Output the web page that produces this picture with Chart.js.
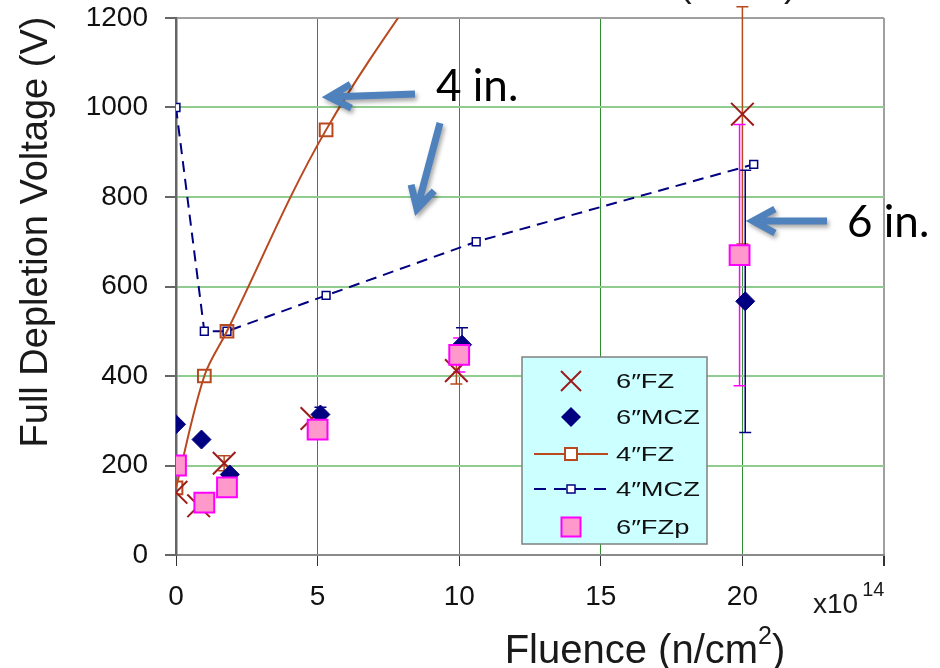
<!DOCTYPE html>
<html>
<head>
<meta charset="utf-8">
<style>
  html, body { margin: 0; padding: 0; background: #fff; }
  #wrap { width: 940px; height: 668px; }
</style>
</head>
<body>
<div id="wrap"><canvas id="chart" width="940" height="668"></canvas></div>
<script src="https://cdn.jsdelivr.net/npm/chart.js@4.4.1/dist/chart.umd.min.js"></script>
<script>
  // fluence in units of 1e14 n/cm2, full depletion voltage in V
  const fz6Fluence = [0, 0.8, 1.7, 4.8, 9.9, 20.0];
  const fz6Voltage = [140, 110, 205, 305, 412, 985];
  const fz6ErrUp = [0, 0, 17, 0, 30, 240];
  const fz6ErrDown = [0, 0, 17, 0, 30, 290];

  const mcz6Fluence = [0, 0.9, 1.9, 5.1, 10.1, 20.1];
  const mcz6Voltage = [292, 258, 180, 314, 470, 567];
  const mcz6Err = [0, 0, 0, 16, 38, 293];

  const fz4Fluence = [0, 1.0, 1.8, 5.3, 10];
  const fz4Voltage = [150, 400, 500, 950, 1400];

  const mcz4Fluence = [0, 1.0, 1.8, 5.3, 10.6, 20.4];
  const mcz4Voltage = [1000, 500, 500, 580, 700, 873];

  const fzp6Fluence = [0, 1.0, 1.8, 5.0, 10.0, 19.9];
  const fzp6Voltage = [200, 117, 151, 280, 447, 670];
  const fzp6Err = [0, 0, 0, 0, 38, 292];

  const xTicks = [0, 5, 10, 15, 20, 25];
  const yTicks = [0, 200, 400, 600, 800, 1000, 1200];
  const labels = ['6″FZ', '6″MCZ', '4″FZ', '4″MCZ', '6″FZp'];

  const FONT = '"Liberation Sans", Arial, sans-serif';
  const RED = '#9c1c1c', BROWN = '#b8491f', NAVY = '#000080', PINK = '#ff99cc', MAGENTA = '#ff00ff';

  function pts(xs, ys) { return xs.map((x, i) => ({ x: x, y: ys[i] })); }

  // error bars, drawn under the markers
  const errorBars = {
    id: 'errorBars',
    beforeDatasetsDraw(chart) {
      const ctx = chart.ctx, xs = chart.scales.x, ys = chart.scales.y;
      const sets = [
        { xv: fz6Fluence, yv: fz6Voltage, up: fz6ErrUp, dn: fz6ErrDown, color: BROWN },
        { xv: mcz6Fluence, yv: mcz6Voltage, up: mcz6Err, dn: mcz6Err, color: NAVY },
        { xv: fzp6Fluence, yv: fzp6Voltage, up: fzp6Err, dn: fzp6Err, color: MAGENTA }
      ];
      ctx.save();
      ctx.lineWidth = 1.5;
      sets.forEach(s => {
        ctx.strokeStyle = s.color;
        s.xv.forEach((x, i) => {
          if (!s.up[i] && !s.dn[i]) return;
          const px = xs.getPixelForValue(x);
          const top = ys.getPixelForValue(s.yv[i] + s.up[i]);
          const bot = ys.getPixelForValue(s.yv[i] - s.dn[i]);
          ctx.beginPath();
          ctx.moveTo(px, top); ctx.lineTo(px, bot);
          ctx.moveTo(px - 6, top); ctx.lineTo(px + 6, top);
          ctx.moveTo(px - 6, bot); ctx.lineTo(px + 6, bot);
          ctx.stroke();
        });
      });
      ctx.restore();
    }
  };

  function arrow(ctx, x1, y1, x2, y2) {
    const a = Math.atan2(y2 - y1, x2 - x1);
    const len = 25, spread = 0.5;
    ctx.save();
    ctx.strokeStyle = '#4f81bd';
    ctx.lineWidth = 7;
    ctx.lineJoin = 'miter';
    ctx.shadowColor = 'rgba(0,0,0,0.35)';
    ctx.shadowBlur = 4;
    ctx.shadowOffsetX = 2;
    ctx.shadowOffsetY = 3;
    ctx.beginPath();
    ctx.moveTo(x1, y1);
    ctx.lineTo(x2, y2);
    ctx.moveTo(x2 - len * Math.cos(a - spread), y2 - len * Math.sin(a - spread));
    ctx.lineTo(x2, y2);
    ctx.lineTo(x2 - len * Math.cos(a + spread), y2 - len * Math.sin(a + spread));
    ctx.stroke();
    ctx.restore();
  }

  function legendMarker(ctx, i, x, y) {
    ctx.save();
    if (i === 0) {
      ctx.strokeStyle = RED; ctx.lineWidth = 2;
      ctx.beginPath();
      ctx.moveTo(x - 10, y - 10); ctx.lineTo(x + 10, y + 10);
      ctx.moveTo(x + 10, y - 10); ctx.lineTo(x - 10, y + 10);
      ctx.stroke();
    } else if (i === 1) {
      ctx.fillStyle = NAVY;
      ctx.beginPath();
      ctx.moveTo(x - 10, y); ctx.lineTo(x, y - 10); ctx.lineTo(x + 10, y); ctx.lineTo(x, y + 10);
      ctx.closePath(); ctx.fill();
    } else if (i === 2) {
      ctx.strokeStyle = BROWN; ctx.lineWidth = 2;
      ctx.beginPath(); ctx.moveTo(534, y); ctx.lineTo(608, y); ctx.stroke();
      ctx.fillStyle = '#fff';
      ctx.fillRect(x - 6, y - 6, 12, 12);
      ctx.strokeRect(x - 6, y - 6, 12, 12);
    } else if (i === 3) {
      ctx.strokeStyle = NAVY; ctx.lineWidth = 2;
      ctx.setLineDash([12, 8]);
      ctx.beginPath(); ctx.moveTo(534, y); ctx.lineTo(608, y); ctx.stroke();
      ctx.setLineDash([]);
      ctx.fillStyle = '#fff'; ctx.lineWidth = 1.5;
      ctx.fillRect(x - 4, y - 4, 8, 8);
      ctx.strokeRect(x - 4, y - 4, 8, 8);
    } else {
      ctx.fillStyle = PINK; ctx.strokeStyle = MAGENTA; ctx.lineWidth = 2;
      ctx.fillRect(x - 9.5, y - 9.5, 19, 19);
      ctx.strokeRect(x - 9.5, y - 9.5, 19, 19);
    }
    ctx.restore();
  }

  const decor = {
    id: 'decor',
    afterDraw(chart) {
      const ctx = chart.ctx;
      ctx.save();

      // legend box
      ctx.fillStyle = '#ccffff';
      ctx.fillRect(522, 357, 185, 187);
      ctx.strokeStyle = '#808080'; ctx.lineWidth = 1.5;
      ctx.strokeRect(522, 357, 185, 187);
      const rows = [381, 417, 454, 489, 527];
      ctx.font = '21px ' + FONT;
      ctx.textBaseline = 'middle';
      ctx.textAlign = 'left';
      labels.forEach((t, i) => {
        legendMarker(ctx, i, 571, rows[i]);
        ctx.save();
        ctx.fillStyle = '#111';
        ctx.translate(616, rows[i] + 1);
        ctx.scale(1.3, 1);
        ctx.fillText(t, 0, 0);
        ctx.restore();
      });

      // axis titles
      ctx.fillStyle = '#1a1a1a';
      ctx.save();
      ctx.translate(37, 232);
      ctx.rotate(-Math.PI / 2);
      ctx.font = '38px ' + FONT;
      ctx.textAlign = 'center';
      ctx.textBaseline = 'middle';
      ctx.fillText('Full Depletion Voltage (V)', 0, 0);
      ctx.restore();

      ctx.textBaseline = 'alphabetic';
      ctx.textAlign = 'left';
      const big = '40px ' + FONT, sup = '25px ' + FONT;
      ctx.font = big;
      const w1 = ctx.measureText('Fluence (n/cm').width;
      const w3 = ctx.measureText(')').width;
      ctx.font = sup;
      const w2 = ctx.measureText('2').width;
      let x0 = 645 - (w1 + w2 + w3) / 2;
      ctx.font = big; ctx.fillText('Fluence (n/cm', x0, 663);
      ctx.font = sup; ctx.fillText('2', x0 + w1, 644);
      ctx.font = big; ctx.fillText(')', x0 + w1 + w2, 663);

      // x10^14 multiplier
      ctx.font = '28px ' + FONT;
      ctx.fillText('x10', 813, 613);
      const wx = ctx.measureText('x10').width;
      ctx.font = '20px ' + FONT;
      ctx.fillText('14', 813 + wx + 4, 596);

      // cut-off title fragments at the top
      ctx.font = '38px ' + FONT;
      ctx.fillText('(', 679, -4);
      ctx.fillText(')', 784, -4);

      // annotations
      arrow(ctx, 415, 94, 329, 97);
      arrow(ctx, 440, 123, 417, 209);
      arrow(ctx, 827, 221, 753, 221);
      ctx.fillStyle = '#000';
      ctx.font = '44px Lato, "Open Sans", sans-serif';
      ctx.fillText('4 in.', 436, 101);
      ctx.fillText('6 in.', 847, 237);

      ctx.restore();
    }
  };

  const ctx = document.getElementById('chart').getContext('2d');
  const chart = new Chart(ctx, {
    type: 'scatter',
    data: {
      datasets: [
        {
          label: labels[0], data: pts(fz6Fluence, fz6Voltage), order: 2,
          pointStyle: 'crossRot', pointRadius: 16, borderColor: RED, backgroundColor: RED, pointBorderWidth: 2
        },
        {
          label: labels[1], data: pts(mcz6Fluence, mcz6Voltage), order: 1,
          pointStyle: 'rectRot', pointRadius: 9.5, borderColor: NAVY, backgroundColor: NAVY, pointBorderWidth: 1
        },
        {
          label: labels[2], data: pts(fz4Fluence, fz4Voltage), order: 3, showLine: true, tension: 0.35,
          borderColor: BROWN, borderWidth: 2, pointStyle: 'rect', pointRadius: 9,
          pointBackgroundColor: 'rgba(255,255,255,0)', pointBorderColor: BROWN, pointBorderWidth: 2
        },
        {
          label: labels[3], data: pts(mcz4Fluence, mcz4Voltage), order: 4, showLine: true, tension: 0,
          borderColor: NAVY, borderWidth: 2, borderDash: [11, 7], pointStyle: 'rect', pointRadius: 5.5,
          pointBackgroundColor: '#fff', pointBorderColor: NAVY, pointBorderWidth: 1.5
        },
        {
          label: labels[4], data: pts(fzp6Fluence, fzp6Voltage), order: 0,
          pointStyle: 'rect', pointRadius: 14, borderColor: MAGENTA, backgroundColor: PINK, pointBorderWidth: 2
        }
      ]
    },
    options: {
      responsive: false,
      animation: false,
      layout: { padding: { left: 0, top: 16, right: 56, bottom: 0 } },
      plugins: { legend: { display: false }, tooltip: { enabled: false } },
      scales: {
        x: {
          type: 'linear', min: 0, max: 25,
          afterBuildTicks: s => { s.ticks = xTicks.map(v => ({ value: v })); },
          afterFit: s => { s.height = 113; s.paddingLeft = 0; s.paddingRight = 0; },
          ticks: {
            callback: v => (v === 25 ? '' : String(v)),
            font: { family: FONT, size: 28 }, color: '#111', padding: 14, maxRotation: 0, autoSkip: false
          },
          grid: {
            color: c => (c.tick && c.tick.value === 25 ? '#a0a0a0' : '#2f8f2f'),
            lineWidth: c => (c.tick && c.tick.value === 25 ? 2 : 1),
            tickColor: '#333', tickLength: 11
          },
          border: { color: '#8a8a8a', width: 2 }
        },
        y: {
          min: 0, max: 1200,
          afterBuildTicks: s => { s.ticks = yTicks.map(v => ({ value: v })); },
          afterFit: s => { s.width = 176; s.paddingTop = 0; s.paddingBottom = 0; },
          ticks: { callback: v => String(v), font: { family: FONT, size: 28 }, color: '#111', padding: 17 },
          grid: {
            color: c => (c.tick && c.tick.value === 1200 ? '#a0a0a0' : '#90cc90'),
            lineWidth: 2,
            tickColor: '#666', tickLength: 11
          },
          border: { color: '#666', width: 2.5 }
        }
      }
    },
    plugins: [errorBars, decor]
  });
</script>
</body>
</html>
